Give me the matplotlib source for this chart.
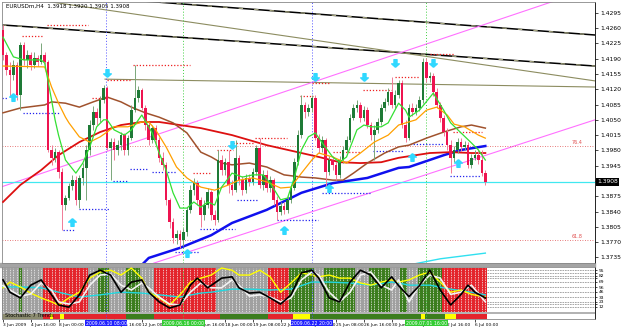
import matplotlib
matplotlib.use("Agg")
import matplotlib.pyplot as plt
from matplotlib.patches import Rectangle
from matplotlib.transforms import blended_transform_factory

# EURUSDm H4 bars, 3 Jun 2009 08:00 .. 6 Jul 2009 12:00
opens = [1.4255, 1.4198, 1.4164, 1.4152, 1.4175, 1.4107, 1.4221, 1.4187, 1.4198, 1.4175,
         1.4191, 1.4182, 1.4198, 1.4182, 1.3981, 1.3963, 1.3976, 1.3931, 1.3855, 1.3871,
         1.3899, 1.3912, 1.3867, 1.3917, 1.3940, 1.3981, 1.4038, 1.4068, 1.4054, 1.4095,
         1.4123, 1.3985, 1.3999, 1.3981, 1.3992, 1.4015, 1.3981, 1.4008, 1.4072, 1.4100,
         1.4118, 1.4077, 1.4038, 1.4004, 1.4031, 1.4004, 1.3963, 1.3947, 1.3867, 1.3816,
         1.3780, 1.3789, 1.3775, 1.3793, 1.3844, 1.3889, 1.3905, 1.3867, 1.3832, 1.3855,
         1.3885, 1.3832, 1.3821, 1.3958, 1.3935, 1.3953, 1.3901, 1.3889, 1.3963, 1.3912,
         1.3889, 1.3917, 1.3908, 1.3931, 1.3985, 1.3901, 1.3924, 1.3894, 1.3912, 1.3867,
         1.3839, 1.3853, 1.3844, 1.3867, 1.3894, 1.3953, 1.4015, 1.4084, 1.4068, 1.4077,
         1.4100, 1.4008, 1.3985, 1.4004, 1.3931, 1.3958, 1.3947, 1.3924, 1.3958, 1.3981,
         1.4004, 1.4054, 1.4077, 1.4084, 1.4054, 1.4072, 1.4038, 1.4015, 1.4027, 1.4045,
         1.4077, 1.4091, 1.4114, 1.4084, 1.4107, 1.4134, 1.4038, 1.4008, 1.4077, 1.4068,
         1.4077, 1.4095, 1.4182, 1.4146, 1.4150, 1.4114, 1.4084, 1.4054, 1.4022, 1.3992,
         1.3963, 1.3981, 1.3999, 1.3988, 1.3992, 1.3947, 1.3963, 1.3969, 1.3958, 1.3928]
highs = [1.4267, 1.4205, 1.4182, 1.4187, 1.4182, 1.4228, 1.4228, 1.4210, 1.4205, 1.4205,
         1.4198, 1.4226, 1.4205, 1.4187, 1.3992, 1.3985, 1.3981, 1.3940, 1.3878, 1.3905,
         1.3924, 1.3921, 1.3924, 1.3951, 1.3992, 1.4050, 1.4082, 1.4077, 1.4104, 1.4130,
         1.4127, 1.4008, 1.4008, 1.4004, 1.4022, 1.4020, 1.4015, 1.4084, 1.4175, 1.4127,
         1.4123, 1.4084, 1.4045, 1.4038, 1.4038, 1.4011, 1.3976, 1.3953, 1.3871, 1.3825,
         1.3798, 1.3798, 1.3802, 1.3850, 1.3901, 1.3917, 1.3912, 1.3873, 1.3867, 1.3894,
         1.3889, 1.3844, 1.3981, 1.3969, 1.3963, 1.3981, 1.3912, 1.4004, 1.3969, 1.3921,
         1.3926, 1.3926, 1.3940, 1.3992, 1.4008, 1.3935, 1.3935, 1.3921, 1.3917, 1.3876,
         1.3862, 1.3862, 1.3876, 1.3901, 1.3963, 1.4027, 1.4107, 1.4091, 1.4086, 1.4107,
         1.4107, 1.4018, 1.4013, 1.4008, 1.3967, 1.3967, 1.3953, 1.3967, 1.3990, 1.4013,
         1.4063, 1.4086, 1.4095, 1.4091, 1.4082, 1.4079, 1.4045, 1.4038, 1.4054, 1.4086,
         1.4100, 1.4123, 1.4148, 1.4118, 1.4141, 1.4141, 1.4050, 1.4086, 1.4088, 1.4086,
         1.4104, 1.4191, 1.4191, 1.4159, 1.4157, 1.4123, 1.4091, 1.4061, 1.4031, 1.4004,
         1.3990, 1.4008, 1.4008, 1.4001, 1.3999, 1.3972, 1.3981, 1.3981, 1.3981, 1.3935]
lows = [1.4187, 1.4152, 1.4102, 1.4141, 1.4095, 1.4072, 1.4175, 1.4169, 1.4164, 1.4169,
        1.4173, 1.4178, 1.4169, 1.3976, 1.3947, 1.3953, 1.3917, 1.3798, 1.3844, 1.3867,
        1.3889, 1.3855, 1.3848, 1.3901, 1.3867, 1.3969, 1.4027, 1.4038, 1.4045, 1.4088,
        1.3981, 1.3912, 1.3958, 1.3969, 1.3981, 1.3969, 1.3969, 1.4004, 1.4068, 1.4091,
        1.4072, 1.4027, 1.3992, 1.3997, 1.3992, 1.3953, 1.3935, 1.3855, 1.3802, 1.3768,
        1.3766, 1.3757, 1.3761, 1.3784, 1.3837, 1.3878, 1.3855, 1.3805, 1.3821, 1.3848,
        1.3821, 1.3809, 1.3816, 1.3924, 1.3924, 1.3883, 1.3878, 1.3885, 1.3901, 1.3878,
        1.3883, 1.3899, 1.3901, 1.3924, 1.3894, 1.3889, 1.3885, 1.3885, 1.3855, 1.3821,
        1.3832, 1.3834, 1.3837, 1.3860, 1.3889, 1.3947, 1.4008, 1.4054, 1.4059, 1.4068,
        1.4004, 1.3974, 1.3976, 1.3894, 1.3924, 1.3935, 1.3912, 1.3917, 1.3951, 1.3976,
        1.3999, 1.4050, 1.4068, 1.4045, 1.4047, 1.4031, 1.4004, 1.3958, 1.4020, 1.4038,
        1.4070, 1.4084, 1.4077, 1.4077, 1.4100, 1.4031, 1.3999, 1.4004, 1.4059, 1.4061,
        1.4070, 1.4088, 1.4136, 1.4136, 1.4104, 1.4077, 1.4045, 1.4013, 1.3981, 1.3928,
        1.3953, 1.3974, 1.3979, 1.3981, 1.3940, 1.3940, 1.3958, 1.3949, 1.3921, 1.3901]
closes = [1.4198, 1.4164, 1.4152, 1.4175, 1.4107, 1.4221, 1.4187, 1.4198, 1.4175, 1.4191,
          1.4182, 1.4198, 1.4182, 1.3981, 1.3963, 1.3976, 1.3931, 1.3855, 1.3871, 1.3899,
          1.3912, 1.3867, 1.3917, 1.3940, 1.3981, 1.4038, 1.4068, 1.4054, 1.4095, 1.4123,
          1.3985, 1.3999, 1.3981, 1.3992, 1.4015, 1.3981, 1.4008, 1.4072, 1.4100, 1.4118,
          1.4077, 1.4038, 1.4004, 1.4031, 1.4004, 1.3963, 1.3947, 1.3867, 1.3816, 1.3780,
          1.3789, 1.3775, 1.3793, 1.3844, 1.3889, 1.3905, 1.3867, 1.3832, 1.3855, 1.3885,
          1.3832, 1.3821, 1.3958, 1.3935, 1.3953, 1.3901, 1.3889, 1.3963, 1.3912, 1.3889,
          1.3917, 1.3908, 1.3931, 1.3985, 1.3901, 1.3924, 1.3894, 1.3912, 1.3867, 1.3839,
          1.3853, 1.3844, 1.3867, 1.3894, 1.3953, 1.4015, 1.4084, 1.4068, 1.4077, 1.4100,
          1.4008, 1.3985, 1.4004, 1.3931, 1.3958, 1.3947, 1.3924, 1.3958, 1.3981, 1.4004,
          1.4054, 1.4077, 1.4084, 1.4054, 1.4072, 1.4038, 1.4015, 1.4027, 1.4045, 1.4077,
          1.4091, 1.4114, 1.4084, 1.4107, 1.4134, 1.4038, 1.4008, 1.4077, 1.4068, 1.4077,
          1.4095, 1.4182, 1.4146, 1.4150, 1.4114, 1.4084, 1.4054, 1.4022, 1.3992, 1.3963,
          1.3981, 1.3999, 1.3988, 1.3992, 1.3947, 1.3963, 1.3969, 1.3958, 1.3928, 1.3908]
bars = list(range(len(closes)))

# moving averages (bar index, price)
green_x = [0, 3, 6, 11, 12, 14, 15, 16, 18, 21, 23, 25, 27, 29, 30, 32, 35, 37, 40, 43, 45, 47, 49, 51,
           53, 55, 57, 59, 61, 63, 65, 66, 69, 72, 75, 77, 80, 82, 84, 86, 88, 90, 92, 95, 97, 99,
           102, 104, 106, 109, 111, 114, 116, 117, 120, 124, 127, 129, 132, 135, 137, 139]
green_y = [1.4239, 1.4194, 1.4187, 1.4187, 1.4180, 1.4095, 1.4050, 1.4015, 1.3958, 1.3928, 1.3951,
           1.3988, 1.4034, 1.4050, 1.4050, 1.4027, 1.4015, 1.4027, 1.4061, 1.4020, 1.3974, 1.3935,
           1.3883, 1.3848, 1.3848, 1.3862, 1.3850, 1.3862, 1.3855, 1.3896, 1.3917, 1.3928, 1.3919,
           1.3924, 1.3924, 1.3905, 1.3867, 1.3871, 1.3919, 1.3981, 1.4011, 1.4020, 1.3997, 1.3965,
           1.3953, 1.3965, 1.4027, 1.4038, 1.4034, 1.4034, 1.4043, 1.4088, 1.4072, 1.4056, 1.4072,
           1.4111, 1.4072, 1.4043, 1.4020, 1.3997, 1.3981, 1.3958]
orange_x = [0, 12, 14, 16, 18, 19, 22, 25, 28, 30, 32, 36, 40, 42, 44, 47, 50, 53, 57, 61, 65, 68,
            72, 76, 80, 83, 86, 89, 91, 95, 99, 103, 107, 111, 114, 119, 122, 125, 128, 130, 133, 137, 139]
orange_y = [1.4173, 1.4171, 1.4125, 1.4088, 1.4056, 1.4043, 1.4011, 1.3999, 1.4011, 1.4022, 1.4034,
            1.4034, 1.4045, 1.4045, 1.4027, 1.3988, 1.3942, 1.3917, 1.3896, 1.3889, 1.3901, 1.3912,
            1.3917, 1.3908, 1.3894, 1.3896, 1.3928, 1.3958, 1.3974, 1.3965, 1.3951, 1.3974, 1.3999,
            1.4015, 1.4038, 1.4050, 1.4072, 1.4079, 1.4061, 1.4040, 1.4034, 1.4015, 1.4008]
brown_x = [0, 5, 12, 14, 18, 22, 26, 30, 34, 37, 41, 45, 49, 53, 57, 60, 63, 66, 71, 76, 81, 86,
           90, 95, 98, 101, 105, 110, 114, 117, 122, 127, 132, 135, 139]
brown_y = [1.4066, 1.4077, 1.4084, 1.4091, 1.4088, 1.4079, 1.4091, 1.4102, 1.4091, 1.4079, 1.4066,
           1.4056, 1.4043, 1.4020, 1.3976, 1.3965, 1.3951, 1.3947, 1.3951, 1.3942, 1.3924, 1.3919,
           1.3917, 1.3912, 1.3912, 1.3928, 1.3951, 1.3974, 1.3988, 1.3992, 1.4008, 1.4022, 1.4034,
           1.4038, 1.4031]
red_x = [0, 5, 11, 16, 22, 28, 34, 40, 45, 51, 57, 66, 76, 86, 91, 97, 103, 109, 114, 123, 129, 135, 139]
red_y = [1.3862, 1.3901, 1.3935, 1.3969, 1.3999, 1.4022, 1.4038, 1.4045, 1.4045, 1.4038, 1.4031,
         1.4015, 1.3992, 1.3974, 1.3965, 1.3953, 1.3951, 1.3953, 1.3963, 1.3974, 1.3976, 1.3974, 1.3974]
blue_x = [40, 42, 51, 60, 66, 76, 86, 95, 105, 114, 117, 127, 132, 139]
blue_y = [1.3718, 1.3734, 1.3757, 1.3786, 1.3814, 1.3844, 1.3883, 1.3905, 1.3917, 1.3940, 1.3942,
          1.3969, 1.3981, 1.3990]
cyan_x = [117, 126, 139]
cyan_y = [1.3718, 1.3732, 1.3745]

# drawn objects: trend lines, channel, fib levels
black_lines = [[(36.6, 1.4324), (170.6, 1.4244)], [(-0.3, 1.4267), (170.6, 1.4173)]]
olive_lines = [[(13.5, 1.4320), (170.6, 1.4139)], [(29.4, 1.4143), (170.6, 1.4125)]]
pink_lines = [[(-0.3, 1.3897), (159.7, 1.4324)], [(43.4, 1.3722), (170.6, 1.4050)]]
fib_levels = [1.3990, 1.3775]
fib_names = ["76.4", "61.8"]
current_price = 1.3908

# fractal levels: resistance (red dotted) and support (blue dotted)
res_start = [12.7, 5.5, 37.5, 30, 25.6, 89, 85.6, 103.7, 113, 123, 72.6, 61.7, 66.3, 95, 54.8, 129.7]
res_end = [24.5, 11.5, 54, 36.6, 30, 94.2, 89.3, 112, 120.2, 130.3, 81.8, 66.3, 72, 103, 59.7, 138]
res_price = [1.4267, 1.4242, 1.4175, 1.4141, 1.4100, 1.4134, 1.4104, 1.4118, 1.4148, 1.4201,
             1.4008, 1.3981, 1.3997, 1.3976, 1.3928, 1.4022]
sup_start = [-0.3, 5.8, 36.6, 43, 31.7, 22, 17.3, 56.8, 67.4, 79, 92, 106.6, 117.3, 128.8, 49.6]
sup_end = [1.2, 16.4, 41.5, 50, 35.7, 30.8, 20.7, 66.9, 73.2, 90.8, 105.8, 115.3, 126.8, 137.5, 56.8]
sup_price = [1.4100, 1.4066, 1.3937, 1.3931, 1.3910, 1.3846, 1.3798, 1.3800, 1.3867, 1.3821,
             1.3883, 1.3979, 1.3995, 1.3921, 1.3748]

# signal arrows
down_x = [30, 66, 90, 104, 113, 124]
down_y = [1.4157, 1.3992, 1.4148, 1.4148, 1.4180, 1.4180]
up_x = [3, 20, 53, 81, 94, 118, 131]
up_y = [1.4102, 1.3816, 1.3745, 1.3798, 1.3894, 1.3965, 1.3951]

# period separators
sep_bars = [29.7, 52, 89, 122]
sep_kind = ["b", "g", "b", "g"]
sep_text = ["2009.06.10 08:00", "2009.06.16 00:00", "2009.06.22 20:00", "2009.07.01 16:00"]

# oscillator window
stoch_x = [0, 2, 5, 8, 11, 14, 16, 19, 22, 25, 28, 31, 34, 37, 40, 42, 45, 48, 51, 54, 56, 59, 63, 66, 68,
           71, 74, 77, 80, 83, 86, 89, 91, 94, 97, 100, 103, 106, 109, 112, 114, 117, 120, 123, 126,
           129, 132, 134, 136, 139]
stoch_main = [73, 45, 32, 61, 73, 39, 16, 11, 39, 84, 95, 84, 45, 68, 73, 45, 23, 9, 16, 61, 77, 55, 77,
              80, 55, 43, 45, 32, 18, 39, 89, 95, 77, 32, 23, 68, 95, 84, 55, 80, 60, 35, 60, 95, 50,
              16, 40, 61, 45, 32]
osc_x = [0, 2, 5, 8, 11, 14, 16, 19, 22, 25, 28, 31, 34, 37, 40, 42, 45, 48, 51, 54, 57, 60, 63, 66, 68,
         71, 74, 77, 80, 83, 86, 89, 91, 94, 97, 100, 103, 106, 109, 112, 114, 117, 120, 123, 126,
         129, 132, 135, 139]
stoch_signal = [60, 50, 36, 41, 66, 50, 23, 18, 23, 61, 84, 86, 61, 50, 66, 55, 34, 18, 16, 45, 66, 55,
                55, 73, 61, 36, 39, 34, 23, 32, 73, 91, 84, 45, 23, 45, 84, 91, 61, 50, 73, 23, 61, 84,
                77, 40, 45, 61, 23]
yellow_osc = [55, 68, 57, 43, 32, 23, 16, 32, 45, 77, 91, 95, 84, 100, 77, 45, 32, 16, 39, 68, 77, 84,
              100, 95, 84, 84, 95, 80, 45, 66, 89, 84, 80, 84, 77, 77, 66, 61, 68, 73, 68, 73, 84, 91,
              68, 45, 50, 40, 34]
cyan_osc_x = [0, 5, 11, 16, 22, 28, 34, 40, 45, 51, 57, 60, 66, 71, 77, 83, 89, 94, 100, 106, 112, 114,
              117, 123, 129, 135, 139]
cyan_osc = [57, 57, 55, 45, 34, 39, 45, 43, 39, 34, 43, 45, 52, 52, 50, 52, 68, 68, 66, 61, 68, 66, 61,
            61, 52, 45, 39]
panel_state = "nnnnng" + "nnnnnn" + "r" * 13 + "nnn" + "ggg" + "nnnnn" + "gggg" + "nnnn" + "r" * 18 + \
    "n" * 15 + "r" * 6 + "g" * 7 + "nnn" + "g" * 9 + "nnnn" + "g" * 6 + "nnn" + "gg" + "nnn" + "g" * 7 + "r" * 13
trend_state = "n" * 12 + "rryrry" + "r" * 18 + "g" * 8 + "r" * 19 + "g" * 14 + "r" * 7 + "y" * 5 + \
    "g" * 32 + "y" + "g" * 6 + "yyy" + "r" * 9
osc_levels = [95, 88, 82, 77, 69, 56, 46, 33, 23, 18, 12]
osc_labels = ["95", "", "82", "", "69", "56", "46", "33", "23", "", "12"]

price_ticks = [1.4295, 1.4260, 1.4225, 1.4190, 1.4155, 1.4120, 1.4085, 1.4050, 1.4015, 1.3980,
               1.3945, 1.3910, 1.3875, 1.3840, 1.3805, 1.3770, 1.3735]
date_bars = [0, 8, 16, 24, 32, 40, 48, 56, 64, 72, 80, 88, 96, 104, 112, 120, 128, 136]
date_labels = ["3 Jun 2009", "4 Jun 16:00", "8 Jun 00:00", "9 Jun 08:00", "10 Jun 16:00", "12 Jun 00:00",
               "15 Jun 08:00", "16 Jun 16:00", "18 Jun 00:00", "19 Jun 08:00", "22 Jun 16:00",
               "24 Jun 00:00", "25 Jun 08:00", "26 Jun 16:00", "30 Jun 00:00", "1 Jul 08:00",
               "2 Jul 16:00", "6 Jul 00:00"]


W, H = 625.0, 327.0
fig = plt.figure(figsize=(6.25, 3.27), dpi=100)
fig.patch.set_facecolor("white")
ax = fig.add_axes([2 / W, 1 - 263 / H, 593 / W, 261 / H])
axp = fig.add_axes([2 / W, 1 - 319 / H, 593 / W, 52 / H])
fig.add_artist(Rectangle((0, 1 - 267 / H), 595 / W, 4 / H, transform=fig.transFigure,
                         color="#a4a4a4", zorder=0))

xmin, xmax = -0.29, 170.6
ax.set_xlim(xmin, xmax)
ax.set_ylim(1.37224, 1.43195)

# trend lines / channel
for ln in black_lines:
    xs = [p[0] for p in ln]
    ys = [p[1] for p in ln]
    ax.plot(xs, ys, color="black", lw=1.1, zorder=1)
    ax.plot(xs, ys, color="#a8a880", lw=0.8, ls=(0, (4, 10)), zorder=1)
for ln in olive_lines:
    ax.plot([p[0] for p in ln], [p[1] for p in ln], color="#8c8c60", lw=0.8, zorder=1)
for ln in pink_lines:
    ax.plot([p[0] for p in ln], [p[1] for p in ln], color="#ff70ff", lw=0.8, zorder=1)
for lv, nm in zip(fib_levels, fib_names):
    ax.axhline(lv, color="#e05050", lw=0.6, ls=(0, (1, 2)), zorder=1)
    ax.text(164, lv + 0.0002, nm, color="#e05050", fontsize=3.5, va="bottom")

ax.axhline(current_price, color="#40e8f0", lw=0.9, zorder=1)

# separators
sep_col = {"b": "#5050ff", "g": "#40d040"}
for xb, k in zip(sep_bars, sep_kind):
    ax.axvline(xb, color=sep_col[k], lw=0.7, ls=(0, (1, 2)), zorder=1)
    axp.axvline(xb, color=sep_col[k], lw=0.7, ls=(0, (1, 2)), zorder=4)

# fractal levels
ax.hlines(res_price, res_start, res_end, colors="#ee2222", lw=0.9, linestyles=(0, (1, 1.5)), zorder=2)
ax.hlines(sup_price, sup_start, sup_end, colors="#2222ee", lw=0.9, linestyles=(0, (1, 1.5)), zorder=2)

# moving averages
ax.plot(blue_x, blue_y, color="#1010ee", lw=1.8, zorder=3)
ax.plot(red_x, red_y, color="#dd1010", lw=1.3, zorder=3)
ax.plot(brown_x, brown_y, color="#a0522d", lw=1.1, zorder=3)
ax.plot(cyan_x, cyan_y, color="#30e0f0", lw=1.0, zorder=3)

# candles
bodies_b, bodies_h, body_c, wick_c = [], [], [], []
for i in bars:
    up = closes[i] >= opens[i]
    lo = min(opens[i], closes[i])
    bodies_b.append(lo)
    bodies_h.append(max(abs(closes[i] - opens[i]), 0.00008))
    body_c.append("#1e7a36" if up else "#ee1450")
    wick_c.append("#7aa77a" if up else "#f07a96")
ax.vlines(bars, lows, highs, colors=wick_c, lw=0.7, zorder=4)
ax.bar(bars, bodies_h, bottom=bodies_b, width=0.75, color=body_c, zorder=5)

ax.plot(orange_x, orange_y, color="#ffa000", lw=0.9, zorder=6)
ax.plot(green_x, green_y, color="#33e033", lw=0.9, zorder=6)

# arrows
up_arrow = [(0, 1), (-1, 0.1), (-0.4, 0.1), (-0.4, -1), (0.4, -1), (0.4, 0.1), (1, 0.1), (0, 1)]
down_arrow = [(x, -y) for x, y in up_arrow]
ax.plot(up_x, up_y, ls="none", marker=up_arrow, ms=5.5, color="#30d8ff", zorder=7)
ax.plot(down_x, down_y, ls="none", marker=down_arrow, ms=5.5, color="#30d8ff", zorder=7)

# axes styling
for s in ax.spines.values():
    s.set_color("#888888")
    s.set_linewidth(0.6)
ax.spines["right"].set_color("black")
ax.tick_params(bottom=False, labelbottom=False, left=False, labelleft=False,
               right=True, labelright=True, labelsize=4.3, length=2, width=0.5, pad=1.5)
ax.set_yticks(price_ticks)
# the current-price box hides the label next to it
ax.set_yticklabels(["" if abs(t - current_price) < 0.0010 else "%.4f" % t for t in price_ticks])

tr = blended_transform_factory(ax.transAxes, ax.transData)
ax.text(1.004, current_price, "%.4f" % current_price, transform=tr, fontsize=4.3, color="white",
        va="center", ha="left", zorder=10, bbox=dict(fc="black", ec="none", pad=0.8))
fig.text(6 / W, 1 - 6 / H, "EURUSDm,H4  1.3918 1.3920 1.3905 1.3908", fontsize=4, va="center")

# ---- oscillator panel ----
axp.set_xlim(xmin, xmax)
axp.set_ylim(-15.9, 102.3)
axp.hlines(osc_levels, xmin, xmax, colors="#999999", lw=0.6, linestyles=(0, (2, 1)), zorder=0)
bg = {"r": "#e4242c", "g": "#3c7d1e", "n": "#a0a0a0"}
axp.bar(bars, 100, bottom=0, width=1.0, color=[bg[c] for c in panel_state], zorder=1)
axp.vlines(bars, 0, 100, colors="#f4f4f4", lw=0.5, linestyles=(0, (2, 1.5)), zorder=2)
strip = {"r": "#e4242c", "g": "#3c7d1e", "n": "#8c8c70", "y": "#ffff00"}
axp.bar(bars, 11.4, bottom=-14.8, width=1.0, color=[strip[c] for c in trend_state], zorder=1)
axp.text(0.5, -9, "Stochastic 7 Trends", fontsize=3.6, va="center", color="black", zorder=3)
axp.axhline(-2.2, color="#a4a4a4", lw=1.2, zorder=2)

axp.plot(cyan_osc_x, cyan_osc, color="#20d8e0", lw=1.0, zorder=3)
axp.plot(osc_x, yellow_osc, color="#ffff00", lw=1.0, zorder=3)
axp.plot(osc_x, stoch_signal, color="#f2f2f2", lw=1.2, zorder=3)
axp.plot(stoch_x, stoch_main, color="black", lw=1.2, zorder=3)

for s in axp.spines.values():
    s.set_color("#888888")
    s.set_linewidth(0.6)
axp.spines["right"].set_color("black")
axp.tick_params(left=False, labelleft=False, right=True, labelright=True, labelsize=3.2,
                length=1.5, width=0.5, pad=1)
axp.set_yticks(osc_levels)
axp.set_yticklabels(osc_labels)
axp.set_xticks(date_bars)
axp.set_xticklabels(date_labels, fontsize=3.2, ha="left")
axp.tick_params(axis="x", length=2, pad=1, width=0.5)

trp = blended_transform_factory(axp.transData, axp.transAxes)
box_col = {"b": "#2020ff", "g": "#33cc33"}
for xb, k, t in zip(sep_bars, sep_kind, sep_text):
    axp.text(xb, -0.03, t, transform=trp, fontsize=3.3, color="white", ha="center", va="top",
             zorder=10, bbox=dict(fc=box_col[k], ec="none", pad=0.5))

fig.savefig("out.png", dpi=100, facecolor="white")
